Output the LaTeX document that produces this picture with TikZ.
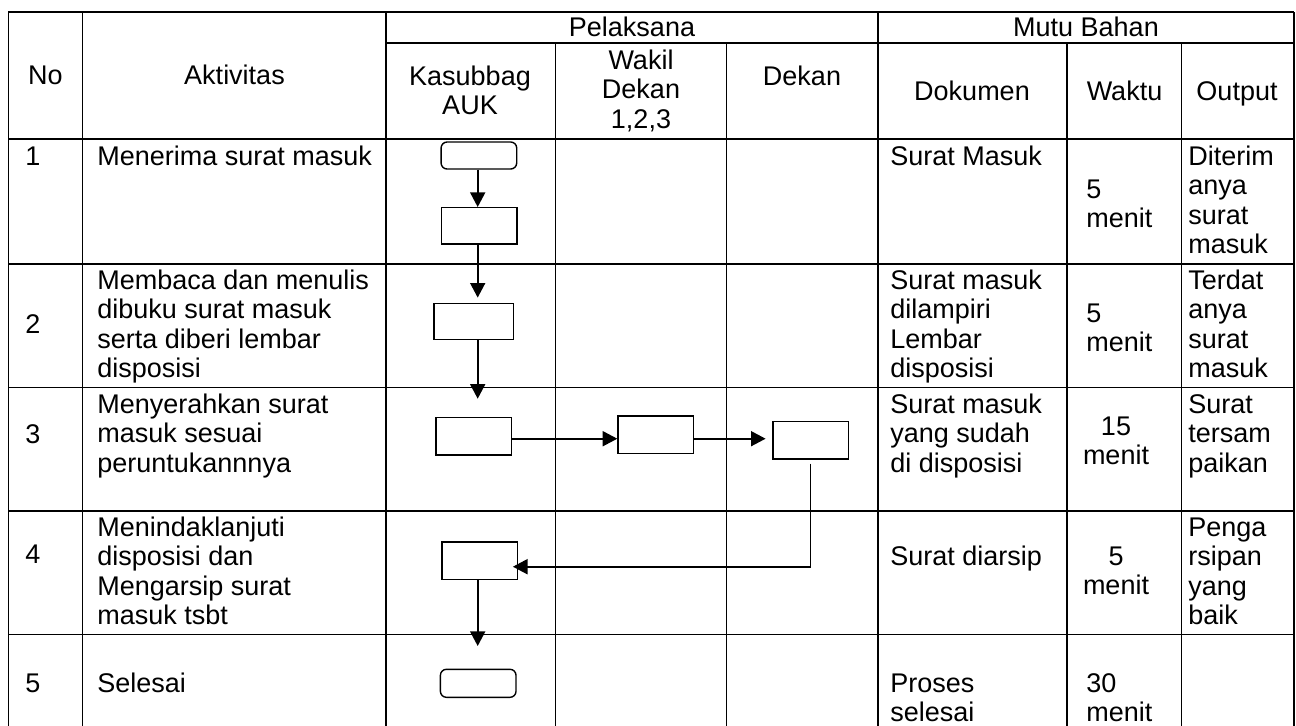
\documentclass[tikz,border=0pt]{standalone}
\usepackage{fontspec}
\setmainfont{Liberation Sans}
\usetikzlibrary{arrows.meta}

\begin{document}
\begin{tikzpicture}[x=0.5pt, y=-0.5pt,
    font=\fontsize{13.5}{14.75}\selectfont,
    grid/.style={line width=0.75pt},
    cell/.style={inner sep=0pt, anchor=base west, align=left},
    head/.style={inner sep=0pt, anchor=base, align=center},
    box/.style={draw, line width=0.7pt, inner sep=0pt, minimum width=37.8pt, minimum height=18.8pt},
    term/.style={box, rounded corners=3pt, minimum height=13.8pt},
    flow/.style={line width=0.85pt, -{Triangle[width=7.5pt,length=7.3pt]}},
    link/.style={line width=0.35pt}]

    \useasboundingbox (0,0) rectangle (1296,725);

    % Table frame
    \draw[grid] (8.3,12) -- (1294,12);
    \draw[grid] (386,43) -- (1294,43);
    \draw[grid] (8.3,139) -- (1294,139);
    \draw[grid] (8.3,264) -- (1294,264);
    \draw[grid] (8.3,387.7) -- (1294,387.7);
    \draw[grid] (8.3,511) -- (1294,511);
    \draw[grid] (8.3,634.7) -- (1294,634.7);
    \draw[grid] (8.3,12) -- (8.3,726);
    \draw[grid] (82.7,12) -- (82.7,726);
    \draw[grid] (386,12) -- (386,726);
    \draw[grid] (555.7,43) -- (555.7,726);
    \draw[grid] (726.7,43) -- (726.7,726);
    \draw[grid] (878,12) -- (878,726);
    \draw[grid] (1067,43) -- (1067,726);
    \draw[grid] (1181.7,43) -- (1181.7,726);
    \draw[grid] (1294,12) -- (1294,726);

    % Header (multi-line nodes sit on their last line)
    \node[head] (hNo) at (45.5,84) {No};
    \node[head] (hAkt) at (234.5,84) {Aktivitas};
    \node[head] (hPel) at (632,36) {Pelaksana};
    \node[head] (hMutu) at (1086,36) {Mutu Bahan};
    \node[head] (hKas) at (470,114.5) {Kasubbag\\AUK};
    \node[head] (hWak) at (641,128) {Wakil\\Dekan\\1,2,3};
    \node[head] (hDek) at (802,85) {Dekan};
    \node[head] (hDok) at (972,100) {Dokumen};
    \node[head] (hWkt) at (1124.5,100) {Waktu};
    \node[head] (hOut) at (1237,100) {Output};

    % Row 1
    \node[cell] (no1) at (25,165) {1};
    \node[cell] (akt1) at (97,165) {Menerima surat masuk};
    \node[cell] (dok1) at (890,165) {Surat Masuk};
    \node[cell] (wkt1) at (1086,227.5) {5\\menit};
    \node[cell] (out1) at (1188,253.5) {Diterim\\anya\\surat\\masuk};

    % Row 2
    \node[cell] (no2) at (25,333) {2};
    \node[cell] (akt2) at (97,377.5) {Membaca dan menulis\\dibuku surat masuk\\serta diberi lembar\\disposisi};
    \node[cell] (dok2) at (890,377.5) {Surat masuk\\dilampiri\\Lembar\\disposisi};
    \node[cell] (wkt2) at (1086,351.5) {5\\menit};
    \node[cell] (out2) at (1188,377.5) {Terdat\\anya\\surat\\masuk};

    % Row 3
    \node[cell] (no3) at (25,443) {3};
    \node[cell] (akt3) at (97,472) {Menyerahkan surat\\masuk sesuai\\peruntukannnya};
    \node[cell] (dok3) at (890,472) {Surat masuk\\yang sudah\\di disposisi};
    \node[head] (wkt3) at (1116,464.5) {15\\menit};
    \node[cell] (out3) at (1188,472) {Surat\\tersam\\paikan};

    % Row 4
    \node[cell] (no4) at (25,563) {4};
    \node[cell] (akt4) at (97,624.5) {Menindaklanjuti\\disposisi dan\\Mengarsip surat\\masuk tsbt};
    \node[cell] (dok4) at (890,565) {Surat diarsip};
    \node[head] (wkt4) at (1116,594.5) {5\\menit};
    \node[cell] (out4) at (1188,624.5) {Penga\\rsipan\\yang\\baik};

    % Row 5
    \node[cell] (no5) at (25,692) {5};
    \node[cell] (akt5) at (97,692) {Selesai};
    \node[cell] (dok5) at (890,721.5) {Proses\\selesai};
    \node[cell] (wkt5) at (1086,721.5) {30\\menit};

    % Flow boxes
    \node[term, minimum height=13.5pt] (start) at (478.9,155.5) {};
    \node[box, minimum height=18.2pt] (terima) at (479.2,225.9) {};
    \node[box, minimum width=39.7pt, minimum height=18.2pt] (baca) at (473.7,321.5) {};
    \node[box] (serah) at (473.8,436.2) {};
    \node[box] (wakil) at (655.8,434.8) {};
    \node[box] (dekan) at (810.7,440) {};
    \node[box] (arsip) at (479.8,560.8) {};
    \node[term, minimum height=14pt] (selesai) at (478.2,683.3) {};

    % Connectors
    \coordinate (kx) at (477.7,0);
    \coordinate (ry) at (0,438.7);
    \coordinate (hy) at (0,566.7);
    \draw[flow] (start.south -| kx) -- (terima.north -| kx);
    \draw[flow, shorten >=2.5pt] (terima.south -| kx) -- (baca.north -| kx);
    \draw[flow, shorten >=9pt] (baca.south -| kx) -- (serah.north -| kx);
    \draw[flow] (serah.east |- ry) -- (wakil.west |- ry);
    \draw[flow, shorten >=3.3pt] (wakil.east |- ry) -- (dekan.west |- ry);
    \draw[link] ([yshift=-2pt]dekan.south) -- (dekan.south |- hy);
    \draw[flow, shorten >=-2.7pt] (dekan.south |- hy) -- (arsip.east |- hy);
    \draw[flow, shorten >=11.3pt] (arsip.south -| kx) -- (selesai.north -| kx);

\end{tikzpicture}
\end{document}
